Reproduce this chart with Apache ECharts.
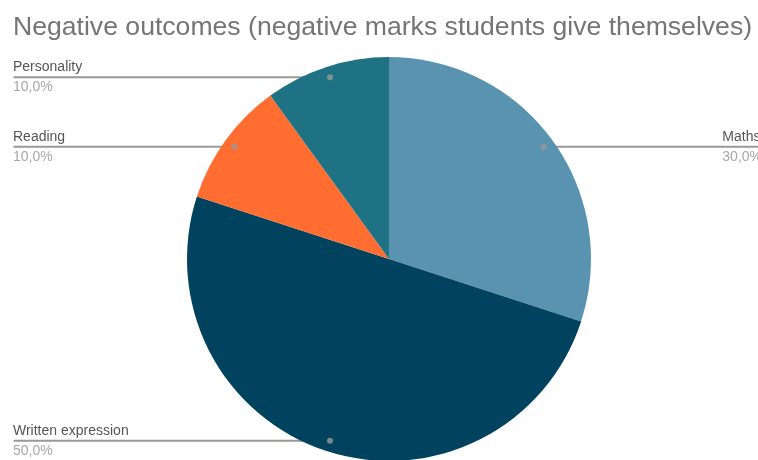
<!DOCTYPE html>
<html>
<head>
<meta charset="utf-8">
<script src="https://cdn.jsdelivr.net/npm/echarts@6/dist/echarts.min.js"></script>
<style>
html,body{margin:0;padding:0;background:#fff;}
#chart{width:758px;height:460px;}
</style>
</head>
<body>
<div id="chart"></div>
<script>
const titleText = 'Negative outcomes (negative marks students give themselves)';
const categories = ['Maths', 'Written expression', 'Reading', 'Personality'];
const values = [30, 50, 10, 10];
const colors = ['#5a93b0', '#01435f', '#ff6d31', '#1e7283'];

const FONT = '"Liberation Sans", Arial, sans-serif';
const total = values.reduce((a, b) => a + b, 0);
const pct = v => (v / total * 100).toFixed(1).replace('.', ',') + '%';

const CX = 389, CY = 259, R = 202, RDOT = 191;

// mid-angle positions (in value units) of each slice for the marker dots
let acc = 0;
const mids = values.map(v => { const m = acc + v / 2; acc += v; return m; });

const pieData = categories.map((c, i) => ({ name: c, value: values[i], itemStyle: { color: colors[i] } }));
const overlayData = categories.map((c, i) => ({ name: c, value: values[i] }));

const commonPie = {
  type: 'pie',
  left: 0, top: 0, width: 775, height: 460,
  center: [CX, CY],
  startAngle: 90,
  clockwise: true,
  silent: true,
  animation: false,
  emphasis: { disabled: true },
  labelLayout: { hideOverlap: false }
};

const option = {
  animation: false,
  title: {
    text: titleText,
    left: 8, top: 9,
    textStyle: { fontFamily: FONT, fontSize: 26.6, fontWeight: 'normal', color: '#757575' }
  },
  polar: { center: [CX, CY], radius: R },
  angleAxis: {
    type: 'value', min: 0, max: total, startAngle: 90, clockwise: true,
    show: false
  },
  radiusAxis: { type: 'value', min: 0, max: R, show: false },
  series: [
    Object.assign({}, commonPie, {
      radius: [0, R],
      label: { show: false },
      labelLine: { show: false },
      itemStyle: { borderWidth: 0 },
      data: pieData
    }),
    Object.assign({}, commonPie, {
      radius: [0, RDOT],
      itemStyle: { color: 'rgba(0,0,0,0)' },
      label: {
        show: true, position: 'outside', alignTo: 'edge', edgeDistance: 13,
        distanceToLabelLine: 0, formatter: '\u00a0', fontSize: 2
      },
      labelLine: { show: true, length: 0, length2: 20, lineStyle: { color: '#999', width: 2 } },
      data: overlayData
    }),
    Object.assign({}, commonPie, {
      radius: [0, RDOT],
      itemStyle: { color: 'rgba(0,0,0,0)' },
      label: {
        show: true, position: 'outside', alignTo: 'edge', edgeDistance: 13,
        distanceToLabelLine: 0,
        formatter: p => '{n|' + p.name + '}\n{p|' + pct(p.value) + '}',
        rich: {
          n: { fontFamily: FONT, fontSize: 14, color: '#555', lineHeight: 20, align: 'left' },
          p: { fontFamily: FONT, fontSize: 14, color: '#a8a8a8', lineHeight: 20, align: 'left' }
        }
      },
      labelLine: { show: true, length: 0, length2: 20, lineStyle: { color: 'rgba(0,0,0,0)', width: 0 } },
      data: overlayData
    }),
    {
      type: 'scatter',
      coordinateSystem: 'polar',
      symbol: 'circle',
      symbolSize: 6,
      z: 10,
      silent: true,
      animation: false,
      itemStyle: { color: '#999' },
      data: mids.map(m => [RDOT, m])
    }
  ]
};

const chart = echarts.init(document.getElementById('chart'), null, { renderer: 'canvas' });
chart.setOption(option);
</script>
</body>
</html>
